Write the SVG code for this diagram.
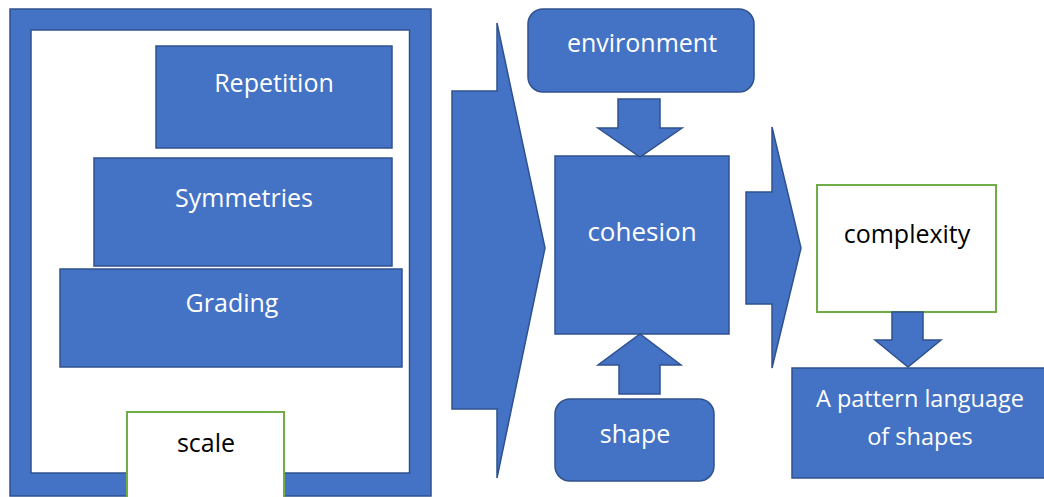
<svg xmlns="http://www.w3.org/2000/svg" width="1044" height="497" viewBox="0 0 1044 497">
<style>
.b{fill:#4472C4;stroke:#2F528F;stroke-width:1.5}
.g{fill:#FFFFFF;stroke:#70AD47;stroke-width:2}
.w{fill:#FFFFFF;stroke:#2F528F;stroke-width:1.5}
.tw{font-family:"Open Sans","Liberation Sans",sans-serif;font-size:25px;fill:#FFFFFF;text-anchor:middle}
.tk{font-family:"Open Sans","Liberation Sans",sans-serif;font-size:25px;fill:#000000;text-anchor:middle}
</style>
<rect width="1044" height="497" fill="#FFFFFF"/>
<g id="frame">
<rect class="b" x="10" y="9" width="421" height="487"/>
<rect class="w" x="31" y="30" width="378.5" height="443"/>
</g>
<g id="repetition">
<rect class="b" x="156" y="46" width="236" height="102"/>
<text class="tw" x="274" y="92">Repetition</text>
</g>
<g id="symmetries">
<rect class="b" x="94" y="158" width="298" height="108"/>
<text class="tw" x="244" y="207">Symmetries</text>
</g>
<g id="grading">
<rect class="b" x="60" y="269" width="342" height="98"/>
<text class="tw" x="232" y="312">Grading</text>
</g>
<g id="scale">
<rect class="g" x="127" y="412" width="157" height="90"/>
<text class="tk" x="206" y="452">scale</text>
</g>
<g id="environment">
<rect class="b" x="528" y="9" width="226" height="83" rx="15"/>
<text class="tw" x="642" y="52">environment</text>
</g>
<g id="cohesion">
<rect class="b" x="555" y="156" width="174" height="178"/>
<text class="tw" x="642" y="241" style="font-size:26px">cohesion</text>
</g>
<g id="shape">
<rect class="b" x="555" y="399" width="159" height="82" rx="15"/>
<text class="tw" x="635" y="443">shape</text>
</g>
<g id="complexity">
<rect class="g" x="817" y="185" width="179" height="127"/>
<text class="tk" x="907" y="243">complexity</text>
</g>
<g id="pattern">
<rect class="b" x="792" y="368" width="260" height="110"/>
<text class="tw" x="920" y="407" style="font-size:23.5px">A pattern language</text>
<text class="tw" x="920" y="445" style="font-size:23.5px">of shapes</text>
</g>
<g id="connectors">
<polygon class="b" points="452,91 497,91 497,23 545,248 497,478 497,409 452,409"/>
<polygon class="b" points="746,192 772,192 772,127 801,248 772,368 772,304 746,304"/>
<polygon class="b" points="618,99 660,99 660,128 682,128 640,157 598,128 618,128"/>
<polygon class="b" points="619,394 660,394 660,365 681,365 640,334 598,365 619,365"/>
<polygon class="b" points="892,312 923,312 923,340 941,340 908,367 875,340 892,340"/>
</g>
</svg>
